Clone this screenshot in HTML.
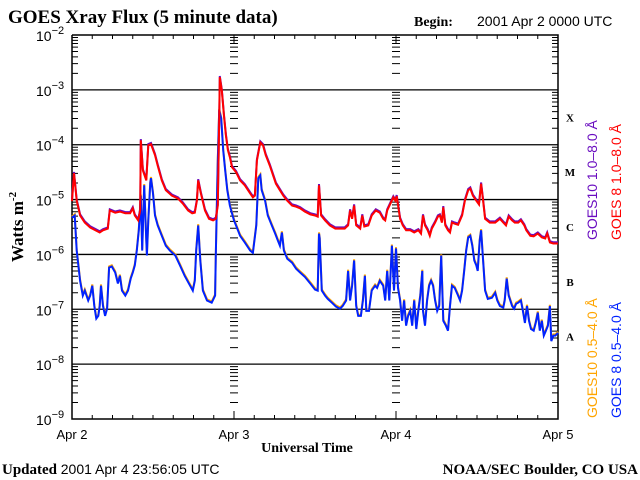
<!DOCTYPE html>
<html><head><meta charset="utf-8"><style>
html,body{margin:0;padding:0;background:#fff;}
svg{display:block;}
.sans{font-family:"Liberation Sans",sans-serif;}
.serif{font-family:"Liberation Serif",serif;font-weight:bold;}
</style></head><body>
<svg id="chart" width="640" height="480" xmlns="http://www.w3.org/2000/svg">
<text x="8" y="23" class="serif" font-size="19">GOES Xray Flux (5 minute data)</text>
<text x="414" y="26" class="serif" font-size="14">Begin:</text>
<text x="477" y="26" class="sans" font-size="14">2001 Apr 2 0000 UTC</text>
<text x="0" y="0" class="serif" font-size="17" transform="translate(23,262) rotate(-90)">Watts m<tspan font-size="11" dy="-7">-2</tspan></text>
<text x="307" y="452" class="serif" font-size="14" text-anchor="middle">Universal Time</text>
<text x="2" y="474" class="serif" font-size="15">Updated <tspan class="sans" font-weight="normal" font-size="14">2001 Apr  4 23:56:05 UTC</tspan></text>
<text x="638" y="474" class="serif" font-size="15" text-anchor="end">NOAA/SEC Boulder, CO USA</text>
<g id="axes"></g>
<g id="series"></g>
<g id="legend">
<text transform="translate(597,240) rotate(-90)" class="sans" font-size="14" fill="#6a0dc0">GOES10 1.0–8.0 Å</text>
<text transform="translate(621,240) rotate(-90)" class="sans" font-size="14" fill="#ff0000">GOES 8 1.0–8.0 Å</text>
<text transform="translate(597,418) rotate(-90)" class="sans" font-size="14" fill="#ffa500">GOES10 0.5–4.0 Å</text>
<text transform="translate(621,418) rotate(-90)" class="sans" font-size="14" fill="#0022ff">GOES 8 0.5–4.0 Å</text>
</g>
</svg>
<script>
const dayLabels=["Apr 2","Apr 3","Apr 4","Apr 5"];
const decades=[-2,-3,-4,-5,-6,-7,-8,-9];
const classLabels=["X","M","C","B","A"];
const classLevels=[-3.5,-4.5,-5.5,-6.5,-7.5];
const longH=[0,0.3,0.7,1.2,1.9,2.7,4.1,4.6,5.3,5.6,6.4,7.1,7.9,8.6,9.0,9.3,9.8,10.1,10.2,10.5,11.0,11.3,11.7,12.3,12.7,13.3,13.9,14.8,15.7,16.4,17.2,17.8,18.2,18.5,18.7,19.1,19.7,20.3,20.9,21.3,21.6,21.8,21.9,22.2,22.5,22.8,23.1,23.4,23.7,24.3,24.9,25.6,26.4,26.8,27.1,27.4,27.9,28.3,28.7,29.3,29.8,30.2,30.8,31.3,31.9,32.6,33.2,33.8,34.5,35.3,36.0,36.4,36.6,36.9,37.5,38.2,39.0,39.7,40.4,40.9,41.2,41.5,41.8,42.1,42.7,43.0,43.3,43.9,44.4,45.0,45.6,46.1,46.4,46.7,47.6,47.9,48.1,48.6,49.0,49.5,50.1,50.7,51.3,51.7,52.0,52.3,52.7,53.0,53.3,53.8,54.2,54.5,54.8,55.0,55.3,55.7,56.0,56.3,56.7,57.2,57.8,58.2,58.7,59.0,59.4,59.9,60.3,60.6,60.9,61.2,61.9,62.7,63.4,63.9,64.3,64.7,65.2,65.6,66.1,66.5,67.0,67.3,67.9,68.4,69.0,69.6,70.1,70.4,70.8,71.3,72.0];
const longV=[-5.03,-4.52,-5.02,-5.29,-5.42,-5.51,-5.60,-5.56,-5.53,-5.20,-5.24,-5.22,-5.25,-5.25,-5.16,-5.29,-5.38,-5.20,-3.92,-4.47,-4.65,-4.01,-3.99,-4.19,-4.38,-4.65,-4.83,-4.93,-4.98,-5.07,-5.20,-5.25,-5.24,-5.02,-4.65,-4.89,-5.20,-5.35,-5.38,-5.35,-5.11,-3.55,-2.77,-3.01,-3.46,-3.83,-4.10,-4.23,-4.41,-4.50,-4.65,-4.74,-4.89,-4.96,-4.93,-4.29,-3.96,-4.01,-4.19,-4.38,-4.56,-4.71,-4.83,-4.93,-5.02,-5.11,-5.13,-5.16,-5.22,-5.27,-5.29,-5.31,-4.74,-5.29,-5.38,-5.47,-5.53,-5.53,-5.53,-5.47,-5.20,-5.35,-5.11,-5.47,-5.53,-5.29,-5.49,-5.47,-5.29,-5.20,-5.24,-5.35,-5.38,-5.20,-4.96,-5.02,-4.94,-5.35,-5.47,-5.56,-5.56,-5.60,-5.56,-5.62,-5.29,-5.47,-5.56,-5.66,-5.53,-5.42,-5.31,-5.29,-5.42,-5.14,-5.47,-5.56,-5.60,-5.42,-5.44,-5.46,-5.29,-5.02,-4.83,-4.80,-4.93,-5.02,-5.09,-4.71,-5.02,-5.35,-5.42,-5.42,-5.35,-5.42,-5.47,-5.31,-5.38,-5.42,-5.42,-5.38,-5.47,-5.56,-5.66,-5.67,-5.62,-5.69,-5.71,-5.62,-5.78,-5.80,-5.80];
const shortH=[0,0.4,0.7,1.2,1.6,1.9,2.4,2.7,3.0,3.3,3.6,3.9,4.1,4.3,4.6,4.9,5.2,5.5,5.9,6.4,6.8,7.1,7.4,7.9,8.3,8.7,9.0,9.3,9.6,9.9,10.2,10.4,10.7,11.0,11.1,11.3,11.6,11.7,12.0,12.3,12.7,13.3,13.9,14.5,15.3,16.0,16.7,17.5,17.9,18.2,18.4,18.7,19.0,19.4,20.0,20.7,21.2,21.3,21.6,21.8,22.1,22.4,22.7,23.0,23.4,23.7,24.0,24.3,24.9,25.6,26.4,26.8,27.3,27.6,27.9,28.1,28.6,29.0,29.6,30.1,30.5,30.8,31.1,31.4,31.9,32.6,33.2,33.8,34.5,35.3,36.0,36.4,36.6,36.7,37.0,37.5,37.9,38.5,39.1,39.7,40.1,40.6,40.9,41.2,41.5,41.8,42.1,42.4,42.8,43.1,43.4,43.6,44.0,44.4,44.9,45.2,45.6,46.1,46.4,46.7,47.0,47.4,47.7,48.0,48.3,48.6,48.9,49.2,49.5,49.8,50.1,50.4,50.7,51.0,51.3,51.6,51.9,52.0,52.3,52.6,52.9,53.2,53.5,53.8,54.1,54.4,54.7,55.0,55.4,55.7,56.0,56.3,56.7,57.2,57.5,57.8,58.1,58.4,58.7,59.0,59.3,59.6,59.9,60.1,60.4,60.6,60.9,61.2,61.6,62.2,62.7,63.0,63.4,63.9,64.1,64.4,64.7,65.2,65.5,65.8,66.1,66.5,66.8,67.1,67.4,67.7,68.0,68.4,68.7,69.0,69.3,69.6,69.9,70.2,70.5,70.8,71.0,71.3,71.6,72.0];
const shortV=[-5.33,-5.29,-5.93,-6.48,-6.75,-6.66,-6.84,-6.75,-6.57,-6.94,-7.17,-7.12,-6.94,-6.57,-6.94,-7.12,-6.99,-6.24,-6.22,-6.33,-6.53,-6.39,-6.66,-6.75,-6.66,-6.44,-6.33,-6.20,-5.93,-5.56,-4.93,-5.93,-4.74,-5.75,-6.02,-5.38,-4.69,-4.61,-4.89,-5.29,-5.47,-5.66,-5.84,-5.93,-6.02,-6.20,-6.39,-6.57,-6.66,-6.48,-5.93,-5.47,-6.11,-6.66,-6.84,-6.88,-6.75,-6.02,-4.29,-3.37,-3.52,-4.10,-4.47,-4.83,-5.11,-5.25,-5.38,-5.47,-5.66,-5.78,-5.93,-5.97,-5.47,-4.61,-4.56,-4.83,-5.02,-5.29,-5.47,-5.62,-5.75,-5.84,-5.60,-5.93,-6.08,-6.15,-6.26,-6.33,-6.41,-6.53,-6.64,-6.66,-5.62,-5.71,-6.66,-6.75,-6.81,-6.88,-6.95,-6.99,-6.94,-6.84,-6.30,-6.84,-6.57,-6.11,-6.94,-7.12,-7.12,-6.84,-6.39,-7.03,-7.03,-6.66,-6.57,-6.61,-6.48,-6.57,-6.84,-6.30,-6.84,-5.84,-6.66,-5.89,-6.61,-6.84,-7.21,-6.84,-7.30,-7.12,-7.03,-7.30,-6.84,-7.36,-7.03,-6.75,-6.30,-7.03,-7.30,-6.84,-6.57,-6.48,-6.57,-6.84,-7.03,-6.94,-6.02,-7.21,-7.30,-7.39,-6.94,-6.57,-6.61,-6.75,-6.84,-6.66,-6.30,-5.93,-5.69,-5.66,-5.84,-6.11,-6.20,-6.30,-5.75,-5.56,-6.11,-6.66,-6.81,-6.79,-6.70,-6.84,-6.94,-6.97,-6.84,-6.44,-6.75,-6.94,-6.99,-6.90,-6.88,-6.84,-7.03,-7.25,-6.94,-7.21,-7.36,-7.39,-7.25,-7.06,-7.39,-7.21,-7.48,-7.39,-7.30,-6.94,-7.58,-7.48,-7.48,-7.43];

const NS="http://www.w3.org/2000/svg";
const X0=72,X1=558,Y0=35,Y1=419;
function xs(h){return X0+h/72*(X1-X0);}
function ys(l){return Y0+(-2-l)/7*(Y1-Y0);}
function mk(tag,attrs,parent){const e=document.createElementNS(NS,tag);for(const k in attrs)e.setAttribute(k,attrs[k]);parent.appendChild(e);return e;}
const axes=document.getElementById('axes');
// frame
const fr=mk('path',{d:`M${X0},${Y0}V${Y1}H${X1}V${Y0}H${X0}`,fill:'none',stroke:'#000','stroke-width':1.5},axes);


// decade grid + labels
decades.forEach(function(d){
  const y=ys(d);
  if(d<-2&&d>-9){const ln=mk('line',{x1:X0,x2:X1,y1:y,y2:y,stroke:'#000','stroke-width':1.3},axes);
    
    }
  const t=mk('text',{x:X0-36,y:y+6,'font-size':14,'font-family':'Liberation Sans, sans-serif'},axes);
  
  
  t.innerHTML='10<tspan font-size="11" dy="-7">'+d+'</tspan>';
  t.querySelector('tspan').textContent='\u2212'+(-d);
});
// minor ticks on left, right, day lines
let tk='';
for(let d=-9;d<-2;d++){
  for(let m=2;m<=9;m++){
    const y=ys(d+Math.log10(m));
    tk+=`M${X0},${y}h6M${X1},${y}h-6`;
    [1,2].forEach(function(k){const x=xs(k*24);tk+=`M${x-4},${y}h8`;});
  }
}
for(let h=3;h<72;h+=3){
  const x=xs(h);const L=(h%24===0)?8:4;
  tk+=`M${x},${Y1}v-${L}M${x},${Y0}v${L}`;
}
const tp=mk('path',{d:tk,stroke:'#000','stroke-width':1,fill:'none'},axes);


dayLabels.forEach(function(s,i){
  const t=mk('text',{x:xs(i*24),y:Y1+20,'font-size':13,'text-anchor':'middle','font-family':'Liberation Sans, sans-serif'},axes);
  
  
  t.textContent=s;
});
classLabels.forEach(function(s,i){
  const t=mk('text',{x:570,y:ys(classLevels[i])+4,'font-size':11,'text-anchor':'middle','font-family':'Liberation Serif, serif','font-weight':'bold'},axes);
  
  
  t.textContent=s;
});
const ser=document.getElementById('series');
function stepPath(H,V,dy){
  let d='';
  for(let i=0;i<H.length;i++){const x=xs(H[i]).toFixed(1),y=(ys(V[i])+dy).toFixed(1);d+=(i?'L':'M')+x+','+y;}
  return d;
}
const s1=mk('path',{d:stepPath(shortH,shortV,-1.2),stroke:'#ffa500','stroke-width':2,fill:'none'},ser);


const s2=mk('path',{d:stepPath(shortH,shortV,0),stroke:'#0022ff','stroke-width':2,fill:'none'},ser);


const s3=mk('path',{d:stepPath(longH,longV,-1.2),stroke:'#6a0dc0','stroke-width':2,fill:'none'},ser);


const s4=mk('path',{d:stepPath(longH,longV,0),stroke:'#ff0000','stroke-width':2,fill:'none'},ser);


</script>
</body></html>
